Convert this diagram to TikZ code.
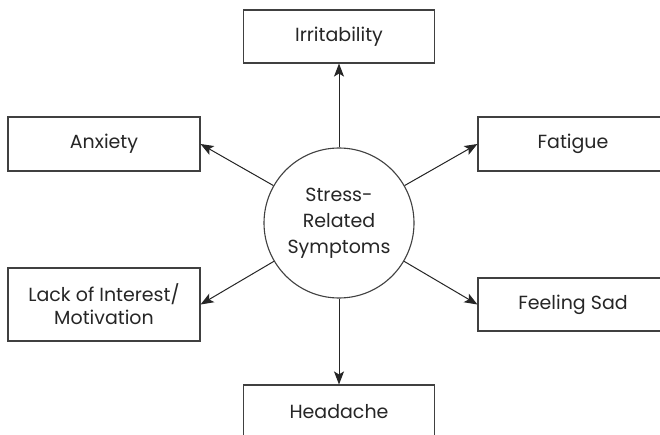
\documentclass[tikz,border=0pt]{standalone}
\usepackage{fontspec}
\setmainfont{Poppins}
\usetikzlibrary{arrows.meta}
\begin{document}
\begin{tikzpicture}[x=1pt,y=-1pt,
  ink/.style={draw=black!75, line width=1.1pt},
  symptom/.style={ink, rectangle, inner sep=0pt, text=black!85,
    font=\fontsize{19}{23}\selectfont, align=center},
  hub/.style={ink, circle, minimum size=150pt, inner sep=0pt, text=black!85,
    font=\fontsize{19}{26}\selectfont, align=center},
  arr/.style={draw=black!85, line width=1pt,
    -{Stealth[length=13pt,width=10pt,inset=3pt]}}]
\useasboundingbox (0,0) rectangle (660,435);
\clip (0,0) rectangle (660,435);
\fill[white] (0,0) rectangle (660,435);

% central topic
\node[hub] (c) at (339,223) {Stress-\\Related\\Symptoms};

% symptom boxes
\node[symptom, minimum width=191pt, minimum height=53pt] (irr)  at (339,36.5)  {Irritability};
\node[symptom, minimum width=192pt, minimum height=54pt] (anx)  at (104,144)   {Anxiety};
\node[symptom, minimum width=192pt, minimum height=73pt] (lack) at (104,304.5) {Lack of Interest/\\Motivation};
\node[symptom, minimum width=190pt, minimum height=54pt] (fat)  at (573,144)   {Fatigue};
\node[symptom, minimum width=190pt, minimum height=53pt] (sad)  at (573,304.5) {Feeling Sad};
\node[symptom, minimum width=191pt, minimum height=53pt] (head) at (339,411.5) {Headache};

% connectors from the hub
\draw[arr] (c) -- (irr.south);
\draw[arr] (c) -- (anx.east);
\draw[arr] (c) -- (lack.east);
\draw[arr] (c) -- (fat.west);
\draw[arr] (c) -- (sad.west);
\draw[arr] (c) -- (head.north);
\end{tikzpicture}
\end{document}
